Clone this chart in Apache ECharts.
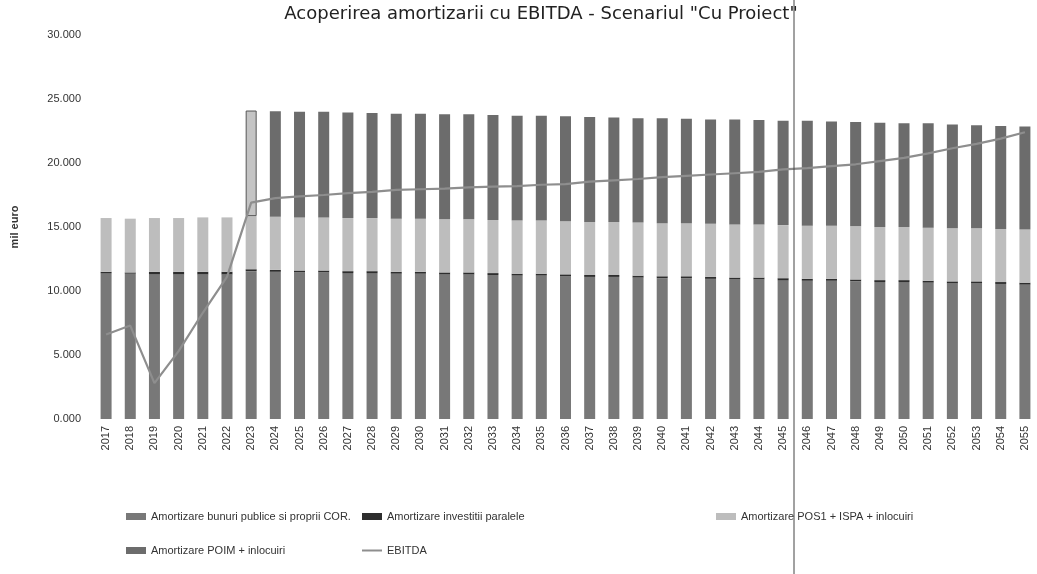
<!DOCTYPE html>
<html>
<head>
<meta charset="utf-8">
<script src="https://cdn.jsdelivr.net/npm/echarts@6/dist/echarts.min.js"></script>
<style>
html,body{margin:0;padding:0;background:#fff;}
#chart{width:1037px;height:574px;}
</style>
</head>
<body>
<div id="chart"></div>
<script>
const years = [];
for (let y = 2017; y <= 2055; y++) years.push(String(y));

const bunuriPublice = [11.4,11.35,11.3,11.3,11.3,11.3,
  11.55,11.5,11.45,11.45,11.4,11.4,11.35,11.35,11.3,11.3,
  11.25,11.2,11.2,11.15,11.1,11.1,11.05,11.0,11.0,10.95,
  10.9,10.9,10.85,10.8,10.8,10.75,10.7,10.7,10.65,10.6,
  10.6,10.55,10.5];
const investitiiParalele = [0.1,0.1,0.2,0.2,0.2,0.2,
  0.15,0.15,0.15,0.15,0.15,0.15,0.15,0.15,0.15,0.15,
  0.15,0.15,0.15,0.15,0.15,0.15,0.15,0.15,0.15,0.15,
  0.15,0.15,0.15,0.15,0.15,0.15,0.15,0.15,0.15,0.15,
  0.15,0.15,0.15];
const pos1Ispa = [4.2,4.2,4.2,4.2,4.25,4.25,
  4.15,4.15,4.15,4.15,4.15,4.15,4.15,4.15,4.15,4.15,
  4.15,4.15,4.15,4.15,4.15,4.15,4.15,4.15,4.15,4.15,
  4.15,4.15,4.15,4.15,4.15,4.15,4.15,4.15,4.15,4.15,
  4.15,4.15,4.15];
const poim = [0,0,0,0,0,0,
  8.25,8.25,8.25,8.25,8.25,8.2,8.2,8.2,8.2,8.2,
  8.2,8.2,8.2,8.2,8.2,8.15,8.15,8.2,8.15,8.15,
  8.2,8.15,8.15,8.2,8.15,8.15,8.15,8.1,8.15,8.1,
  8.05,8.05,8.05];
const ebitda = [6.6,7.3,2.8,5.3,8.3,11.1,
  16.9,17.25,17.4,17.5,17.65,17.75,17.9,17.95,18.0,18.1,
  18.15,18.2,18.3,18.35,18.55,18.65,18.75,18.9,19.0,19.1,
  19.2,19.3,19.5,19.6,19.75,19.9,20.15,20.4,20.75,21.15,
  21.5,21.9,22.4];

const names = [
  'Amortizare bunuri publice si proprii COR.',
  'Amortizare investitii paralele',
  'Amortizare POS1 + ISPA + inlocuiri',
  'Amortizare POIM + inlocuiri',
  'EBITDA'
];
const yTicks = {min: 0, max: 30, interval: 5};

const chart = echarts.init(document.getElementById('chart'));
const font = 'Liberation Sans, Arial, sans-serif';
const legendText = {fontSize: 11, color: '#333', fontFamily: font};
function legend(name, left, top, extra) {
  return Object.assign({data: [name], left: left, top: top, itemWidth: 20, itemHeight: 7,
    icon: 'rect', textStyle: legendText, itemGap: 3, padding: 0}, extra || {});
}
const poimData = poim.map((v, i) => years[i] === '2023'
  ? {value: v, itemStyle: {color: '#c4c4c4', borderColor: '#555', borderWidth: 1}}
  : v);

chart.setOption({
  animation: false,
  backgroundColor: '#fff',
  title: {
    text: 'Acoperirea amortizarii cu EBITDA - Scenariul "Cu Proiect"',
    left: 536, top: 0, textAlign: 'center',
    textStyle: {fontSize: 18, fontWeight: 'normal', color: '#222', fontFamily: 'DejaVu Sans, sans-serif'}
  },
  grid: {left: 94, top: 35, width: 951, height: 384, containLabel: false},
  legend: [
    legend(names[0], 126, 511),
    legend(names[1], 362, 511),
    legend(names[2], 716, 511),
    legend(names[3], 126, 545),
    legend(names[4], 362, 545, {itemHeight: 2})
  ],
  xAxis: {
    type: 'category', data: years,
    axisLine: {show: false}, axisTick: {show: false},
    axisLabel: {rotate: 90, fontSize: 11, color: '#333', margin: 7, fontFamily: font, interval: 0}
  },
  yAxis: {
    type: 'value', min: yTicks.min, max: yTicks.max, interval: yTicks.interval,
    name: 'mil euro', nameLocation: 'middle', nameGap: 74, nameRotate: 90,
    nameTextStyle: {fontSize: 11, fontWeight: 'bold', color: '#333', fontFamily: font},
    splitLine: {show: false}, axisLine: {show: false}, axisTick: {show: false},
    axisLabel: {fontSize: 11, color: '#333', margin: 13, fontFamily: font,
      formatter: v => v.toFixed(3)}
  },
  series: [
    {name: names[0], type: 'bar', stack: 'a', barWidth: 11, data: bunuriPublice,
      itemStyle: {color: '#787878'}},
    {name: names[1], type: 'bar', stack: 'a', barWidth: 11, data: investitiiParalele,
      itemStyle: {color: '#2e2e2e'}},
    {name: names[2], type: 'bar', stack: 'a', barWidth: 11, data: pos1Ispa,
      itemStyle: {color: '#bdbdbd'}},
    {name: names[3], type: 'bar', stack: 'a', barWidth: 11, data: poimData,
      itemStyle: {color: '#6c6c6c'}},
    {name: names[4], type: 'line', data: ebitda, symbol: 'none',
      lineStyle: {color: '#8e8e8e', width: 2.2}, itemStyle: {color: '#8e8e8e'}, z: 5}
  ],
  graphic: [{
    type: 'line', shape: {x1: 794, y1: 0, x2: 794, y2: 574},
    style: {stroke: '#444', lineWidth: 1}, z: 100
  }]
});
</script>
</body>
</html>
